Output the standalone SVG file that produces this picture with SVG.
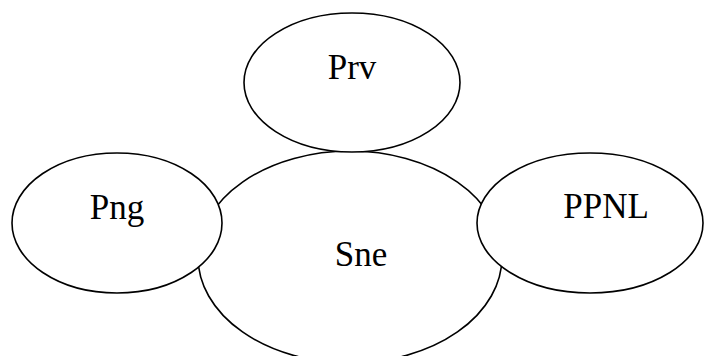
<svg xmlns="http://www.w3.org/2000/svg" width="704" height="356" viewBox="0 0 704 356">
<style>
.n{fill:#fff;stroke:#000;stroke-width:1.6}
.t{font-family:"Liberation Serif","Times New Roman",serif;font-size:35px;fill:#000;text-anchor:middle}
</style>
<rect width="704" height="356" fill="#fff"/>
<g id="Sne"><ellipse class="n" cx="350" cy="257" rx="152" ry="106"/><text class="t" x="361" y="266">Sne</text></g>
<g id="Prv"><ellipse class="n" cx="352" cy="82.5" rx="108" ry="69.5"/><text class="t" x="352" y="79">Prv</text></g>
<g id="Png"><ellipse class="n" cx="117" cy="223" rx="105" ry="70"/><text class="t" x="117" y="219">Png</text></g>
<g id="PPNL"><ellipse class="n" cx="590" cy="223" rx="113" ry="70"/><text class="t" x="606" y="218">PPNL</text></g>
<g id="connectors"></g>
</svg>
